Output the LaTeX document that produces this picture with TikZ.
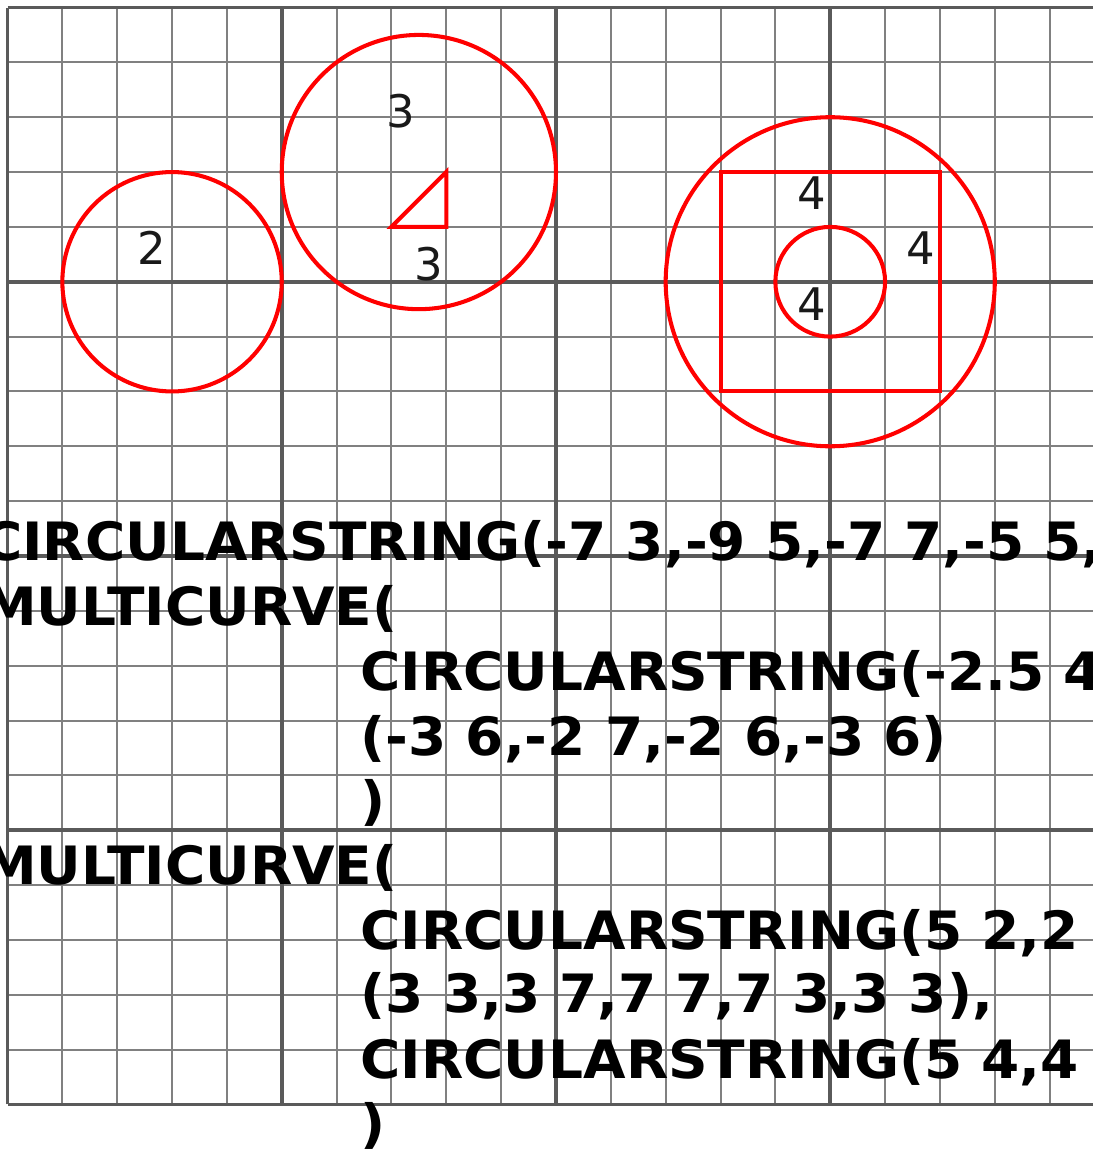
\documentclass[tikz,border=0pt]{standalone}
\usepackage{fontspec}
\setmainfont{DejaVu Sans}
\newfontfamily\wktfont[FakeStretch=1.04]{DejaVu Sans}
\definecolor{minorgrid}{HTML}{808080}
\definecolor{majorgrid}{HTML}{5A5A5A}
\definecolor{shapered}{HTML}{FF0000}
\tikzset{
  minorline/.style={draw=minorgrid, line width=1pt},
  majorline/.style={draw=majorgrid, line width=1.9pt},
  geom/.style={draw=shapered, line width=2.1pt},
  numlabel/.style={inner sep=0pt, text=black!90, font=\fontsize{23.3}{26}\selectfont},
  wkt/.style={inner sep=0pt, anchor=base west, text=black, font=\wktfont\bfseries\fontsize{27.4}{33}\selectfont}
}
\begin{document}
\begin{tikzpicture}
\useasboundingbox (-10.137,-10.903) rectangle (9.790,10.137);
\clip (-10.137,-10.903) rectangle (9.790,10.137);
% minor grid
\foreach \i in {-9,-8,-7,-6,-4,-3,-2,-1,1,2,3,4,6,7,8,9} {
  \draw[minorline] (\i,-10) -- (\i,10);
  \draw[minorline] (-10,\i) -- (10,\i);
}
% major grid
\foreach \i in {-10,-5,0,5} {
  \draw[majorline] (\i,-10) -- (\i,10);
}
\foreach \i in {-10,-5,0,5,10} {
  \draw[majorline] (-10,\i) -- (10,\i);
}
% red geometry
\draw[geom] (-7,5) circle (2);
\draw[geom] (-2.5,7) circle (2.5);
\draw[geom] (-3,6) -- (-2,7) -- (-2,6) -- cycle;
\draw[geom] (5,5) circle (3);
\draw[geom] (3,3) rectangle (7,7);
\draw[geom] (5,5) circle (1);
% labels
\node[numlabel] (l2) at (-7.37,5.62) {2};
\node[numlabel] (l3a) at (-2.83,8.11) {3};
\node[numlabel] (l3b) at (-2.32,5.33) {3};
\node[numlabel] (l4a) at (4.67,6.61) {4};
\node[numlabel] (l4b) at (6.65,5.61) {4};
\node[numlabel] (l4c) at (4.67,4.60) {4};
% WKT text
\node[wkt] (t0) at (-10.47,-0.09) {CIRCULARSTRING(-7 3,-9 5,-7 7,-5 5,};
\node[wkt] (t1) at (-10.47,-1.27) {MULTICURVE(};
\node[wkt] (t2) at (-3.57,-2.45) {CIRCULARSTRING(-2.5 4};
\node[wkt] (t3) at (-3.57,-3.63) {(-3 6,-2 7,-2 6,-3 6)};
\node[wkt] (t4) at (-3.57,-4.81) {)};
\node[wkt] (t5) at (-10.47,-5.99) {MULTICURVE(};
\node[wkt] (t6) at (-3.57,-7.18) {CIRCULARSTRING(5 2,2};
\node[wkt] (t7) at (-3.57,-8.33) {(3 3,3 7,7 7,7 3,3 3),};
\node[wkt] (t8) at (-3.57,-9.52) {CIRCULARSTRING(5 4,4};
\node[wkt] (t9) at (-3.57,-10.70) {)};
\end{tikzpicture}
\end{document}
